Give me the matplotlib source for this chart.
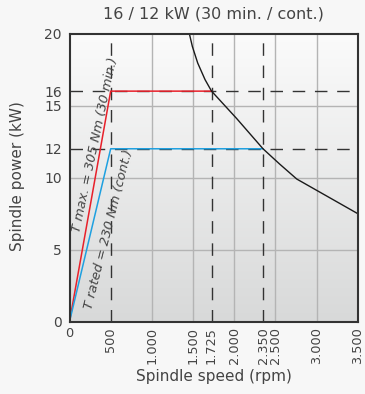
import numpy as np
import matplotlib
matplotlib.use('Agg')
import matplotlib.pyplot as plt

plt.rcParams['font.family'] = ['DejaVu Sans']
plt.rcParams['lines.scale_dashes'] = False

# data
speed_ticks = [0, 500, 1000, 1500, 1725, 2000, 2350, 2500, 3000, 3500]
speed_labels = ['0', '500', '1.000', '1.500', '1.725', '2.000', '2.350', '2.500', '3.000', '3.500']
power_ticks = [0, 5, 10, 12, 15, 16, 20]

# S6 30 min (T max = 305 Nm) and S1 cont (T rated = 230 Nm)
max_speed = [0, 500, 1725]
max_power = [0, 16, 16]
rated_speed = [0, 500, 2350]
rated_power = [0, 12, 12]

# power limit curve
limit_speed = [1455, 1492, 1557, 1646, 1725, 2030, 2350, 2550, 2760, 3500]
limit_power = [20, 19.1, 17.95, 16.8, 16, 14.1, 12, 10.95, 9.9, 7.5]

dashed_x = [500, 1725, 2350]
dashed_y = [16, 12]
grid_x = [1000, 1500, 2000, 2500, 3000]
grid_y = [5, 10, 15]

txt = '#444444'
fig = plt.figure(figsize=(3.65, 3.94), dpi=100, facecolor='#f7f7f7')
ax = fig.add_axes([69.5 / 365, 1 - 321.7 / 394, 288.2 / 365, 288.2 / 394])

# gradient background
grad = np.linspace(0, 1, 256).reshape(-1, 1)
ax.imshow(grad, extent=[0, 1, 0, 1], transform=ax.transAxes, aspect='auto',
          cmap=matplotlib.colors.LinearSegmentedColormap.from_list('bg', ['#fbfbfb', '#d8d9d9']),
          zorder=0)

for gx in grid_x:
    ax.axvline(gx, color='#b4b4b4', lw=1, zorder=1)
for gy in grid_y:
    ax.axhline(gy, color='#b4b4b4', lw=1, zorder=1)
for dx in dashed_x:
    ax.axvline(dx, color='#333333', lw=1, dashes=(9, 7), zorder=2)
for dy in dashed_y:
    ax.axhline(dy, color='#333333', lw=1, dashes=(9, 7), zorder=2)

ax.plot(max_speed, max_power, color='#e8202a', lw=1.1, zorder=4)
ax.plot(rated_speed, rated_power, color='#1ea0e0', lw=1.1, zorder=4)
ax.plot(limit_speed, limit_power, color='#1a1a1a', lw=1, zorder=4)

ax.text(128, 6.15, 'T max. = 305 Nm (30 min.)', rotation=78, rotation_mode='anchor',
        ha='left', va='baseline', style='italic', fontsize=9.4, color=txt, zorder=5)
ax.text(273, 0.8, 'T rated = 230 Nm (cont.)', rotation=75.8, rotation_mode='anchor',
        ha='left', va='baseline', style='italic', fontsize=9.4, color=txt, zorder=5)

ax.set_xlim(0, 3500)
ax.set_ylim(0, 20)
ax.set_xticks(speed_ticks)
ax.set_xticklabels(speed_labels, rotation=90)
ax.get_xticklabels()[0].set_rotation(0)
ax.set_yticks(power_ticks)
ax.tick_params(length=0, labelsize=10, labelcolor=txt)
ax.tick_params(axis='x', pad=4, labelsize=9.3)
ax.tick_params(axis='y', pad=5.5)
for sp in ax.spines.values():
    sp.set_color('#333333')
    sp.set_linewidth(1.5)
    sp.set_zorder(6)

ax.set_title('16 / 12 kW (30 min. / cont.)', fontsize=11.5, color=txt, pad=11)
ax.set_xlabel('Spindle speed (rpm)', fontsize=11, color=txt, labelpad=3)
ax.set_ylabel('Spindle power (kW)', fontsize=11, color=txt)
ax.yaxis.set_label_coords(-0.155, 0.504)

fig.savefig('out.png', dpi=100, facecolor=fig.get_facecolor())
